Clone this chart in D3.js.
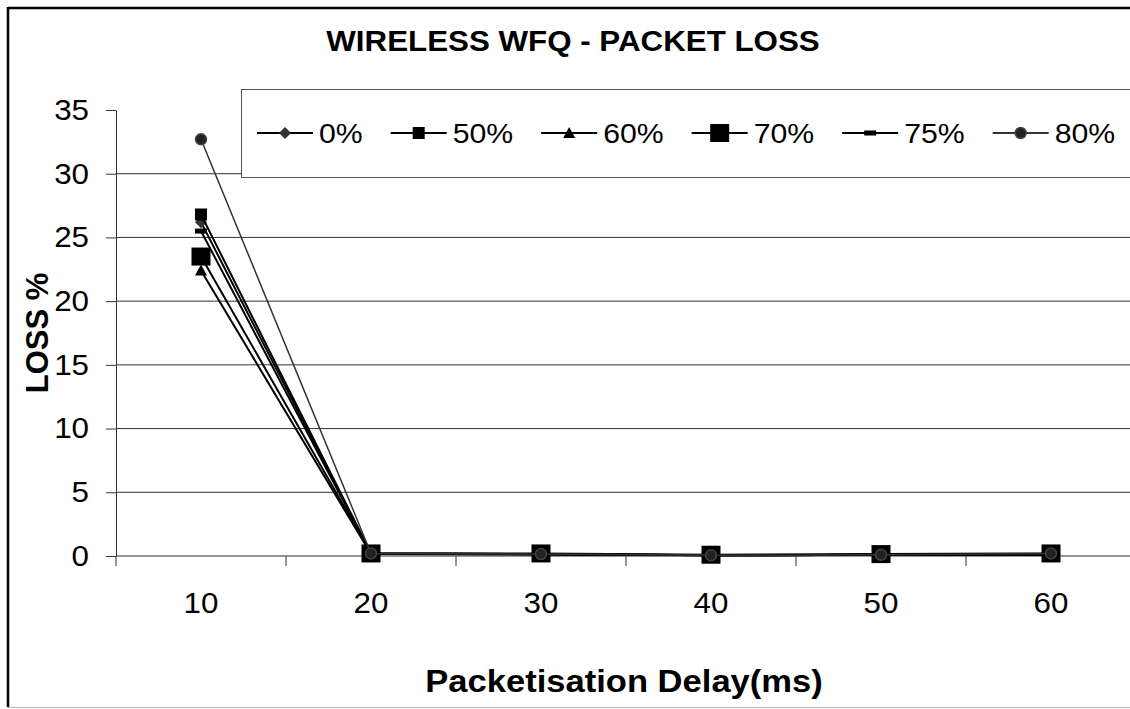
<!DOCTYPE html>
<html><head><meta charset="utf-8">
<script src="https://cdn.jsdelivr.net/npm/d3@7"></script>
<style>
html,body{margin:0;padding:0;background:#fff;}
svg{display:block;font-family:"Liberation Sans",Arial,sans-serif;}
</style></head>
<body><svg id="c" width="1130" height="709"></svg>
<script>
const categories = ["10","20","30","40","50","60"];
const seriesNames = ["0%","50%","60%","70%","75%","80%"];
const s0  = [26.2, 0.2, 0.15, 0.05, 0.1, 0.1];
const s50 = [26.8, 0.2, 0.15, 0.05, 0.1, 0.15];
const s60 = [22.4, 0.15, 0.1, 0.05, 0.1, 0.1];
const s70 = [23.5, 0.2, 0.2, 0.1, 0.15, 0.2];
const s75 = [25.5, 0.2, 0.15, 0.05, 0.1, 0.15];
const s80 = [32.7, 0.2, 0.15, 0.05, 0.1, 0.2];
const yTicks = [0,5,10,15,20,25,30,35];
const titleText = "WIRELESS WFQ - PACKET LOSS";
const xTitle = "Packetisation Delay(ms)";
const yTitle = "LOSS %";

const seriesValues = [s0,s50,s60,s70,s75,s80];
const markers = ["diamond","square","triangle","bigsquare","dash","circle"];
const lineColors = ["#000","#000","#000","#000","#000","#333"];
const SX = 1.08;

const svg = d3.select("#c");
// outer border
svg.append("line").attr("x1",8).attr("x2",1130).attr("y1",8).attr("y2",8).attr("stroke","#000").attr("stroke-width",2.5);
svg.append("line").attr("x1",8).attr("x2",8).attr("y1",7).attr("y2",707).attr("stroke","#000").attr("stroke-width",2.5);
svg.append("line").attr("x1",8).attr("x2",1130).attr("y1",707.5).attr("y2",707.5).attr("stroke","#bbb").attr("stroke-width",1);

const x = d3.scaleBand().domain(categories).range([116,1136]);
const y = d3.scaleLinear().domain([0,35]).range([556,110]);

function stext(g, str, px, py, size, weight, anchor){
  return g.append("text").attr("transform",`translate(${px},${py}) scale(${SX},1)`)
    .attr("text-anchor",anchor).attr("font-size",size).attr("font-weight",weight).attr("fill","#000").text(str);
}

// gridlines
svg.append("g").selectAll("line").data(yTicks.filter(d=>d>0 && d<35)).join("line")
  .attr("x1",116).attr("x2",1136).attr("y1",d=>y(d)).attr("y2",d=>y(d))
  .attr("stroke","#333").attr("stroke-width",1);

// y axis
const ya = svg.append("g").attr("transform","translate(116,0)")
  .call(d3.axisLeft(y).tickValues(yTicks).tickSize(10).tickSizeOuter(0).tickFormat(d3.format("d")));
ya.select(".domain").attr("stroke","#333");
ya.selectAll(".tick line").attr("stroke","#333");
ya.selectAll(".tick text").attr("font-size",29).attr("fill","#000").attr("font-family","Liberation Sans, Arial")
  .attr("x",-27/SX).attr("transform",`scale(${SX},1)`);

// x axis line & boundary ticks
svg.append("line").attr("x1",116).attr("x2",1136).attr("y1",y(0)).attr("y2",y(0)).attr("stroke","#333");
const bounds = categories.map(c=>x(c)).concat([x(categories[categories.length-1])+x.bandwidth()]);
svg.append("g").selectAll("line").data(bounds).join("line")
  .attr("x1",d=>d).attr("x2",d=>d).attr("y1",y(0)).attr("y2",y(0)+10).attr("stroke","#333");
const xl = svg.append("g");
categories.forEach(c=>stext(xl,c,x(c)+x.bandwidth()/2,613,29,"normal","middle"));

// marker drawing
function drawMarker(g, type, cx, cy){
  switch(type){
    case "diamond": g.append("path").attr("d",`M${cx},${cy-6}L${cx+6},${cy}L${cx},${cy+6}L${cx-6},${cy}Z`).attr("fill","#333"); break;
    case "square": g.append("rect").attr("x",cx-6).attr("y",cy-6).attr("width",12).attr("height",12).attr("fill","#000"); break;
    case "triangle": g.append("path").attr("d",`M${cx},${cy-6}L${cx+6},${cy+5}L${cx-6},${cy+5}Z`).attr("fill","#000"); break;
    case "bigsquare": g.append("rect").attr("x",cx-9.5).attr("y",cy-9).attr("width",19).attr("height",18).attr("fill","#000"); break;
    case "dash": g.append("rect").attr("x",cx-6).attr("y",cy-2.5).attr("width",12).attr("height",5).attr("fill","#000"); break;
    case "circle": g.append("circle").attr("cx",cx).attr("cy",cy).attr("r",5.5).attr("fill","#222").attr("stroke","#444").attr("stroke-width",1.5); break;
  }
}

const line = d3.line().x((d,i)=>x(categories[i])+x.bandwidth()/2).y(d=>y(d));
seriesValues.forEach((vals,si)=>{
  const g = svg.append("g");
  g.append("path").datum(vals).attr("d",line).attr("fill","none")
    .attr("stroke",lineColors[si]).attr("stroke-width",si===5?1.5:2);
  vals.forEach((v,i)=>drawMarker(g,markers[si],x(categories[i])+x.bandwidth()/2,y(v)));
});

// legend
svg.append("rect").attr("x",241.5).attr("y",89.5).attr("width",950).attr("height",88)
  .attr("fill","#fff").attr("stroke","#555").attr("stroke-width",1);
const lg = svg.append("g");
let lx = 257;
const ly = 133;
seriesNames.forEach((n,si)=>{
  lg.append("line").attr("x1",lx).attr("x2",lx+56).attr("y1",ly).attr("y2",ly)
    .attr("stroke",lineColors[si]).attr("stroke-width",2);
  drawMarker(lg,markers[si],lx+28,ly);
  const t = stext(lg,n,lx+62,ly+10,28,"normal","start");
  const w = t.node().getComputedTextLength()*SX;
  lx += 62 + w + 28;
});

// titles
stext(svg,titleText,573,51,29,"bold","middle");
stext(svg,xTitle,624,692,32,"bold","middle");
svg.append("text").attr("transform","translate(48,333) rotate(-90)").attr("text-anchor","middle")
  .attr("font-size",31).attr("font-weight","bold").text(yTitle);
</script></body></html>
